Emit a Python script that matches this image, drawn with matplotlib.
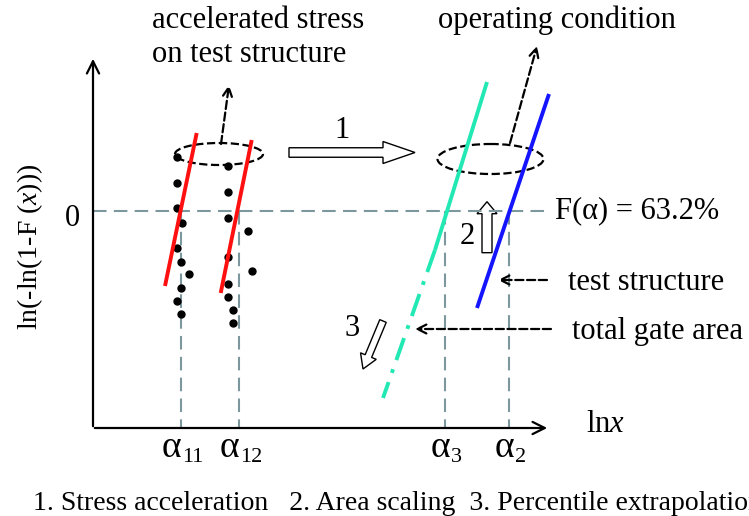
import matplotlib
matplotlib.use("Agg")
import matplotlib.pyplot as plt
from matplotlib.patches import Ellipse, FancyArrow
import numpy as np

plt.rcParams['font.family'] = ['Liberation Serif', 'DejaVu Serif']
plt.rcParams['mathtext.fontset'] = 'custom'
plt.rcParams['mathtext.rm'] = 'Liberation Serif'
plt.rcParams['mathtext.it'] = 'Liberation Serif:italic'

# ---- data (schematic coordinates, pixel space, y downward) ----
dots_left_x = [176.7, 176.7, 176.7, 181.7, 177.3, 181.0, 189.0, 180.7, 177.3, 181.3]
dots_left_y = [156.7, 182.7, 208.3, 222.7, 248.3, 261.7, 274.3, 287.7, 300.7, 313.7]
dots_right_x = [228.3, 228.3, 228.3, 248.3, 228.3, 252.3, 228.3, 228.3, 232.7, 232.7]
dots_right_y = [166.0, 191.7, 218.3, 230.7, 256.7, 271.0, 284.0, 296.7, 310.0, 322.7]

red1_x = [196.7, 165.0]
red1_y = [133.0, 286.0]
red2_x = [251.7, 220.7]
red2_y = [140.0, 293.0]
cyan_solid_x = [487.0, 435.0]
cyan_solid_y = [82.0, 250.0]
cyan_dash_x = [435.0, 383.0]
cyan_dash_y = [250.0, 398.0]
blue_x = [549.0, 477.0]
blue_y = [94.0, 308.0]

alpha_x = [181, 239, 445, 509]
alpha_labels = [("α", "11"), ("α", "12"), ("α", "3"), ("α", "2")]
y_zero = 211

# ---- figure ----
fig = plt.figure(figsize=(7.49, 5.16), dpi=100)
ax = fig.add_axes([0, 0, 1, 1])
ax.set_xlim(0, 749)
ax.set_ylim(516, 0)
ax.axis('off')

ref_col = '#7d979e'
ref_ls = (0, (6.5, 3.5))
# axes arrows
x0, y0 = 93, 428
ax.annotate('', xy=(x0, 56), xytext=(x0, y0 + 1),
            arrowprops=dict(arrowstyle='->', lw=1.6, color='black', mutation_scale=22))
ax.annotate('', xy=(550, y0), xytext=(x0 - 1, y0),
            arrowprops=dict(arrowstyle='->', lw=1.6, color='black', mutation_scale=22))

# reference dashed lines
ax.plot([x0, 545], [y_zero, y_zero], ls=ref_ls, color=ref_col, lw=1.5)
for xv in alpha_x:
    ax.plot([xv, xv], [y_zero, y0], ls=ref_ls, color=ref_col, lw=1.5)

# data dots
ax.plot(dots_left_x, dots_left_y, 'o', color='black', ms=5)
ax.plot(dots_right_x, dots_right_y, 'o', color='black', ms=5)

# fitted lines
ax.plot(red1_x, red1_y, color='#ff1010', lw=2.8, solid_capstyle='butt')
ax.plot(red2_x, red2_y, color='#ff1010', lw=2.8, solid_capstyle='butt')
ax.plot(cyan_solid_x, cyan_solid_y, color='#22e8b4', lw=2.8, solid_capstyle='butt')
ax.plot(cyan_dash_x, cyan_dash_y, color='#22e8b4', lw=2.8,
        ls=(0, (6, 2.5, 1, 2.5)), dash_capstyle='butt')
ax.plot(blue_x, blue_y, color='#1414ff', lw=2.8, solid_capstyle='butt')

# ellipses
ax.add_patch(Ellipse((219, 154), 88, 22, fill=False, ls='--', lw=1.6, ec='black'))
ax.add_patch(Ellipse((490.5, 159), 106, 30, fill=False, ls='--', lw=1.6, ec='black'))

# dashed callout arrows
dash_arrow = dict(arrowstyle='->', lw=1.6, color='black', ls='--', mutation_scale=16,
                  shrinkA=0, shrinkB=0)
ax.annotate('', xy=(229, 85), xytext=(221, 144), arrowprops=dash_arrow)
ax.annotate('', xy=(537, 46), xytext=(510, 143), arrowprops=dash_arrow)
ax.annotate('', xy=(498, 280), xytext=(547, 280), arrowprops=dash_arrow)
ax.annotate('', xy=(415, 329), xytext=(551, 329), arrowprops=dash_arrow)

# hollow arrows
ax.add_patch(FancyArrow(289, 152.5, 126, 0, width=9.5, head_width=22, head_length=32,
                        length_includes_head=True, fc='white', ec='black', lw=1.0))
ax.add_patch(FancyArrow(487, 252.7, 0, -51, width=10, head_width=20, head_length=12,
                        length_includes_head=True, fc='white', ec='black', lw=1.0))
ax.add_patch(FancyArrow(383, 321, -20, 48, width=7, head_width=17, head_length=14,
                        length_includes_head=True, fc='white', ec='black', lw=1.0))

fs = 22
# texts
ax.text(152, 20, 'accelerated stress', fontsize=fs, ha='left', va='center')
ax.text(152, 55, 'on test structure', fontsize=fs, ha='left', va='center')
ax.text(438, 20, 'operating condition', fontsize=fs, ha='left', va='center')
ax.text(342, 130, '1', fontsize=fs, ha='center', va='center')
ax.text(467, 237, '2', fontsize=fs, ha='center', va='center')
ax.text(352, 328, '3', fontsize=fs, ha='center', va='center')
ax.text(555, 211, 'F(α) = 63.2%', fontsize=fs, ha='left', va='center')
ax.text(568, 283, 'test structure', fontsize=fs, ha='left', va='center')
ax.text(572, 331, 'total gate area', fontsize=fs, ha='left', va='center')
ax.text(586, 424, r'ln$\mathit{x}$', fontsize=fs, ha='left', va='center')
ax.text(72, 219, '0', fontsize=fs, ha='center', va='center')
ax.text(30, 247, r'ln(-ln(1-F ($\mathit{x}$)))', fontsize=20, ha='center', va='center',
        rotation=90)

for xv, (a, sub) in zip(alpha_x, alpha_labels):
    xr = xv + (0 if len(sub) == 2 else 5)
    ax.text(xr, 448, a, fontsize=27, ha='right', va='center')
    ax.text(xr + 1, 458, sub, fontsize=16, ha='left', va='center')

ax.text(33, 503, '1. Stress acceleration   2. Area scaling  3. Percentile extrapolation',
        fontsize=20, ha='left', va='center')

fig.savefig('out.png', dpi=100)
